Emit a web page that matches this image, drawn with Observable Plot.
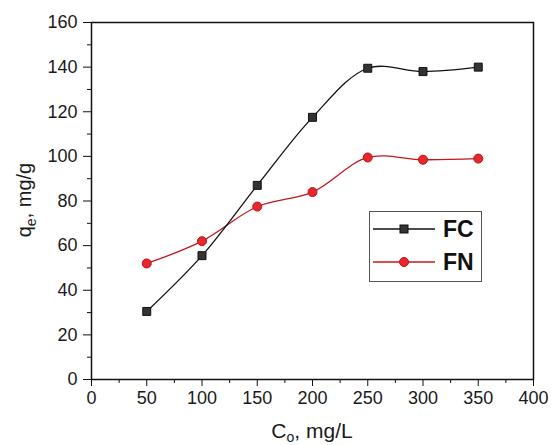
<!DOCTYPE html>
<html>
<head>
<meta charset="utf-8">
<script src="https://cdn.jsdelivr.net/npm/d3@7"></script>
<script src="https://cdn.jsdelivr.net/npm/@observablehq/plot@0.6"></script>
<style>
  body { margin: 0; background: #fff; font-family: Arial, "Liberation Sans", sans-serif; }
  #wrap { position: relative; width: 553px; height: 445px; }
  #legend { position: absolute; left: 369px; top: 211px; width: 113px; height: 71px;
            border: 1.5px solid #555; background: #fff; box-sizing: border-box; }
</style>
</head>
<body>
<div id="wrap"></div>
<script>
// ---- data ----
const concentrations = [50, 100, 150, 200, 250, 300, 350];
const fcValues = [30.5, 55.5, 87, 117.5, 139.5, 138, 140];
const fnValues = [52, 62, 77.5, 84, 99.5, 98.5, 99];
const seriesNames = ["FC", "FN"];
const xMajorTicks = [0, 50, 100, 150, 200, 250, 300, 350, 400];
const xMinorTicks = [25, 75, 125, 175, 225, 275, 325, 375];
const yMajorTicks = [0, 20, 40, 60, 80, 100, 120, 140, 160];
const yMinorTicks = [10, 30, 50, 70, 90, 110, 130, 150];

const fc = concentrations.map((c, i) => ({x: c, y: fcValues[i]}));
const fn = concentrations.map((c, i) => ({x: c, y: fnValues[i]}));

const colors = {FC: {line: "#111", fill: "#333", stroke: "#111"},
                FN: {line: "#c4161c", fill: "#e8262b", stroke: "#b81418"}};

const chart = Plot.plot({
  width: 553,
  height: 445,
  marginLeft: 91,
  marginRight: 20,
  marginTop: 22,
  marginBottom: 66,
  style: {fontFamily: "Arial, 'Liberation Sans', sans-serif", background: "#fff", color: "#111"},
  x: {domain: [0, 400], label: null},
  y: {domain: [0, 160], label: null},
  marks: [
    Plot.axisX({ticks: xMajorTicks, tickSize: 7, tickPadding: 5, fontSize: 18, label: null, stroke: "#111", fill: "#1a1a1a"}),
    Plot.axisX({ticks: xMinorTicks, tickSize: 4, text: null, label: null, stroke: "#111"}),
    Plot.axisY({ticks: yMajorTicks, tickSize: 8, tickPadding: 6, fontSize: 18, label: null, stroke: "#111", fill: "#1a1a1a"}),
    Plot.axisY({ticks: yMinorTicks, tickSize: 4, text: null, label: null, stroke: "#111"}),
    Plot.frame({stroke: "#111", strokeWidth: 1.5}),
    Plot.line(fn, {x: "x", y: "y", curve: "catmull-rom", stroke: colors.FN.line, strokeWidth: 1.3}),
    Plot.line(fc, {x: "x", y: "y", curve: "catmull-rom", stroke: colors.FC.line, strokeWidth: 1.3}),
    Plot.dot(fn, {x: "x", y: "y", symbol: "circle", r: 4.5, fill: colors.FN.fill, stroke: colors.FN.stroke, strokeWidth: 1}),
    Plot.dot(fc, {x: "x", y: "y", symbol: "square", r: 4.5, fill: colors.FC.fill, stroke: colors.FC.stroke, strokeWidth: 1})
  ]
});

const svg = d3.select(chart);
// axis titles with subscripts
const yt = svg.append("text")
  .attr("transform", "translate(31,200) rotate(-90)")
  .attr("text-anchor", "middle")
  .attr("font-size", 20)
  .attr("fill", "#1a1a1a");
yt.append("tspan").text("q");
yt.append("tspan").attr("font-size", 14).attr("dy", 5).text("e");
yt.append("tspan").attr("dy", -5).text(", mg/g");

const xt = svg.append("text")
  .attr("transform", "translate(312,438)")
  .attr("text-anchor", "middle")
  .attr("font-size", 21)
  .attr("fill", "#1a1a1a");
xt.append("tspan").text("C");
xt.append("tspan").attr("font-size", 14).attr("dy", 4).text("o");
xt.append("tspan").attr("dy", -4).text(", mg/L");

const wrap = document.getElementById("wrap");
wrap.appendChild(chart);

// legend
const legend = d3.select(wrap).append("div").attr("id", "legend");
const lsvg = legend.append("svg").attr("width", 110).attr("height", 68);
seriesNames.forEach((name, i) => {
  const cy = 17 + i * 33;
  const c = colors[name];
  lsvg.append("line").attr("x1", 3).attr("x2", 65).attr("y1", cy).attr("y2", cy)
    .attr("stroke", c.line).attr("stroke-width", 1.3);
  if (name === "FC") {
    lsvg.append("rect").attr("x", 30).attr("y", cy - 4).attr("width", 8).attr("height", 8)
      .attr("fill", c.fill).attr("stroke", c.stroke);
  } else {
    lsvg.append("circle").attr("cx", 34).attr("cy", cy).attr("r", 4.5)
      .attr("fill", c.fill).attr("stroke", c.stroke);
  }
  lsvg.append("text").attr("x", 73).attr("y", cy + 8).attr("font-size", 23)
    .attr("font-weight", "bold").attr("fill", "#111").text(name);
});
</script>
</body>
</html>
